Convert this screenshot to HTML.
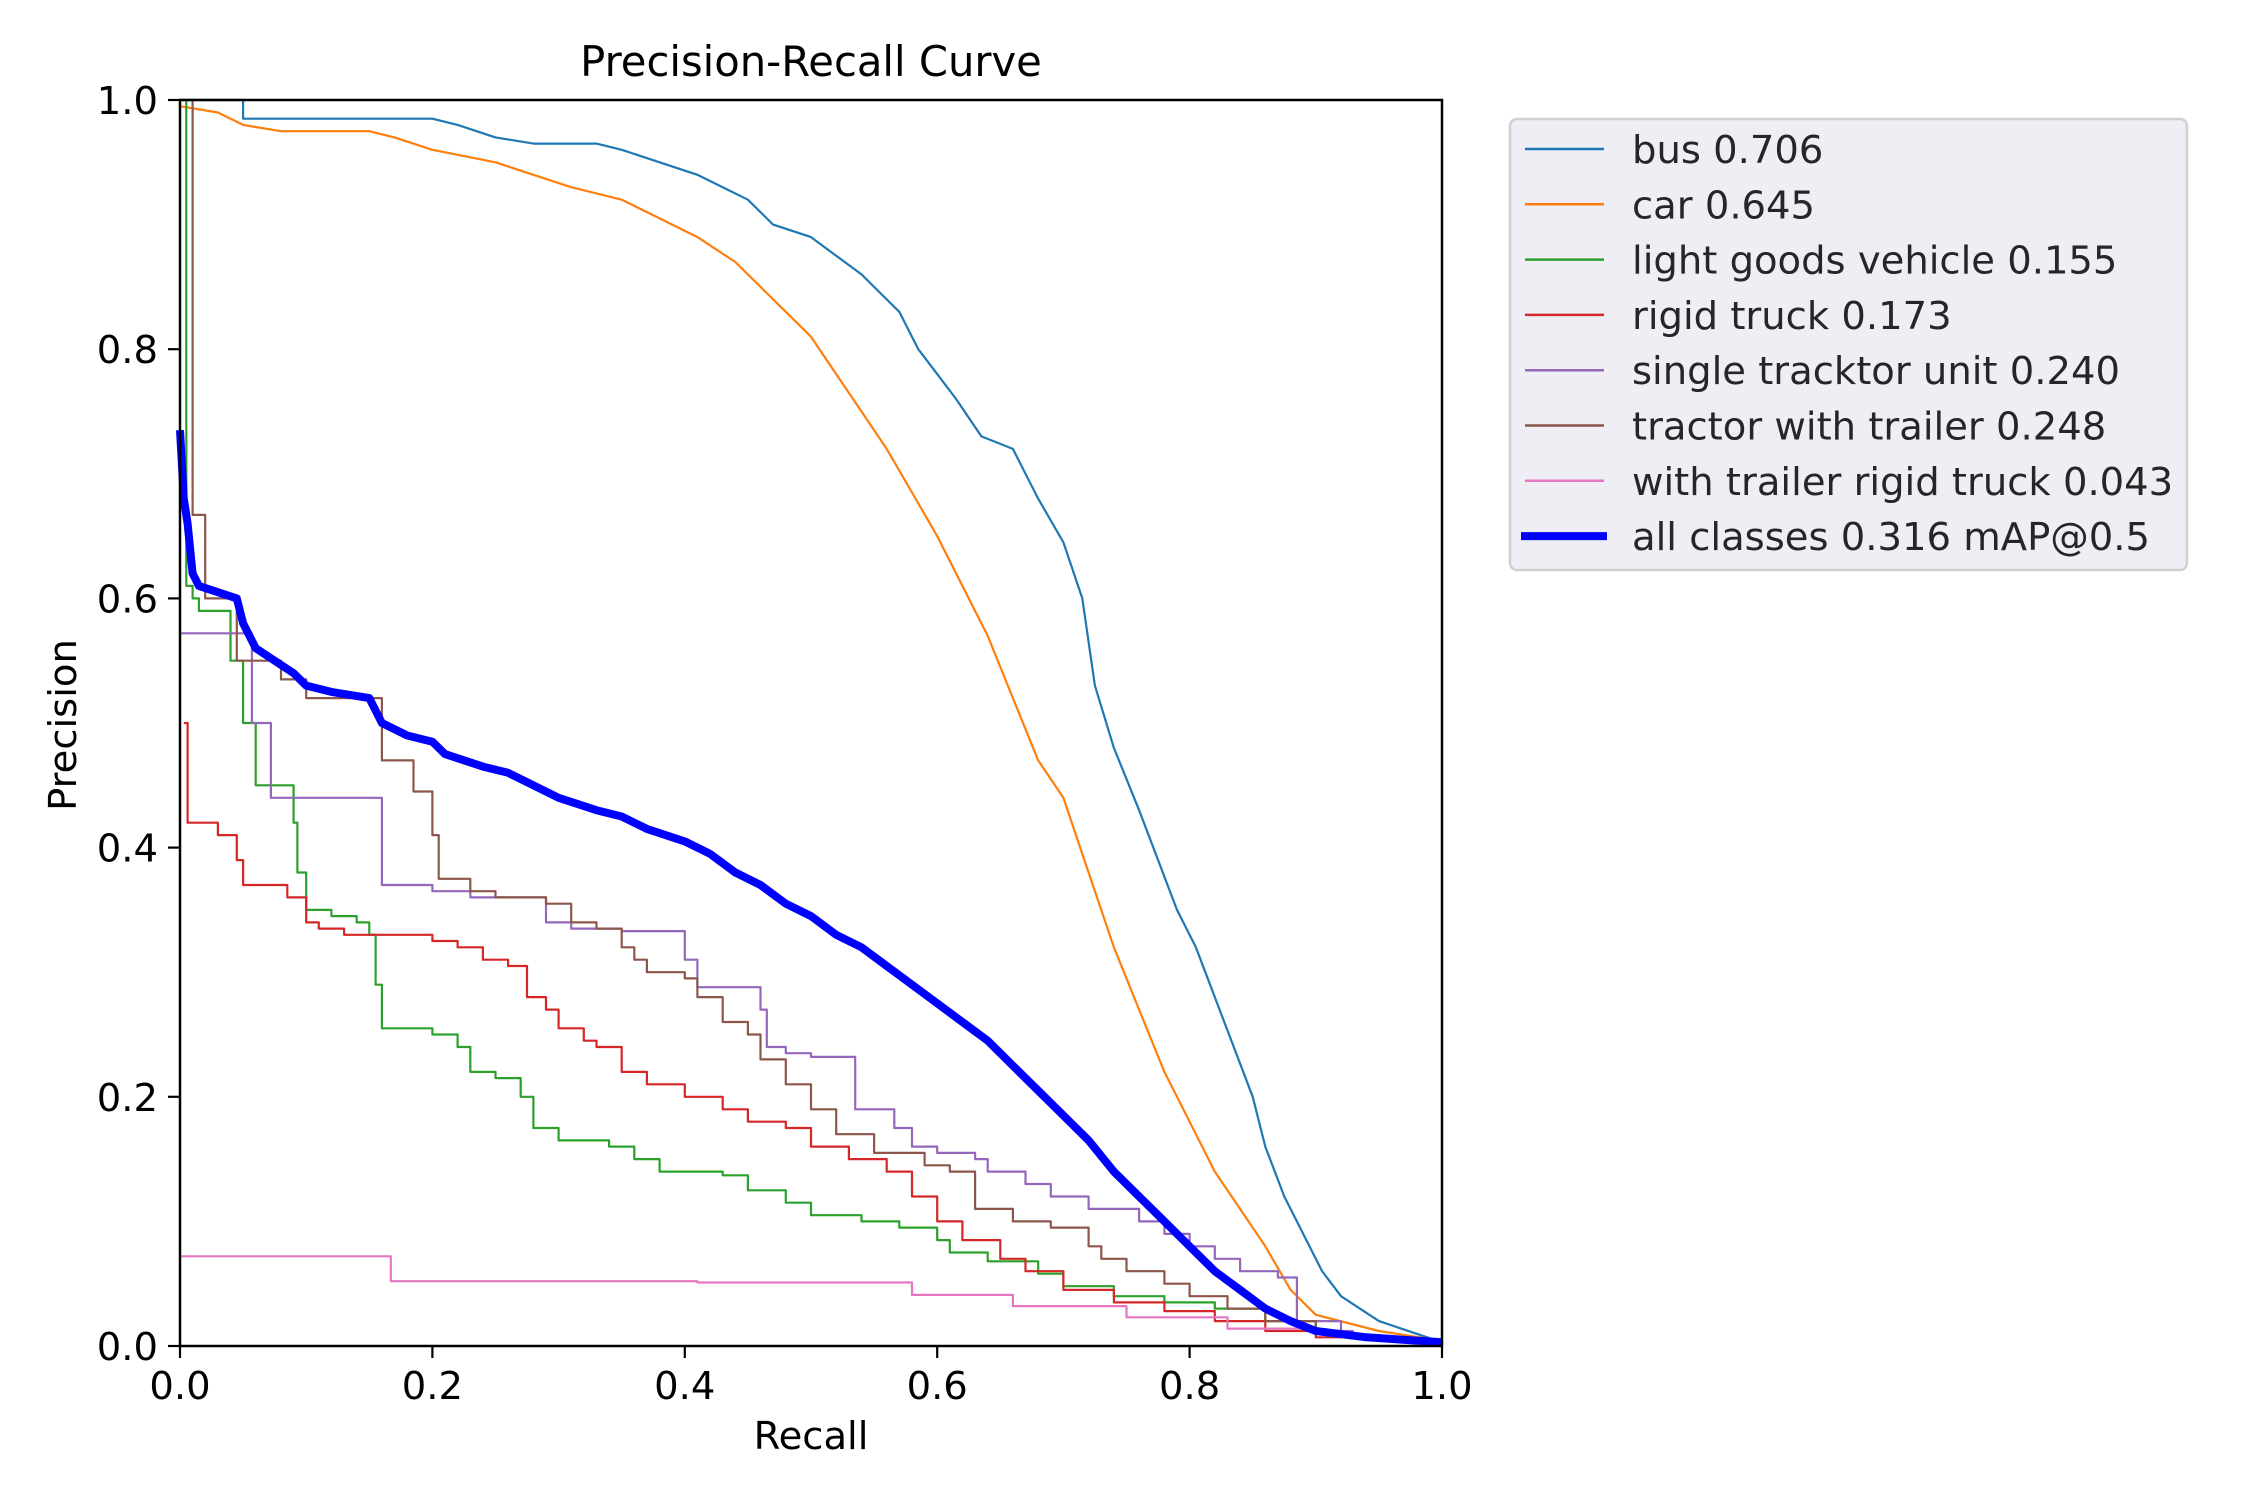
<!DOCTYPE html>
<html><head><meta charset="utf-8"><style>
html,body{margin:0;padding:0;background:#fff;}
svg{display:block;font-family:"DejaVu Sans","Liberation Sans",sans-serif;}
</style></head><body>
<svg id="chart" width="2250" height="1500" viewBox="0 0 2250 1500" xmlns="http://www.w3.org/2000/svg">
<rect width="2250" height="1500" fill="#fff"/>
<text x="811" y="76" font-size="41.7" text-anchor="middle" fill="#000">Precision-Recall Curve</text>
<g id="series"></g>
<rect x="180" y="100" width="1262" height="1246" fill="none" stroke="#000" stroke-width="2.5"/>
<g id="ticks"></g>
<text x="811" y="1449" font-size="38.5" text-anchor="middle" fill="#000">Recall</text>
<text x="0" y="0" font-size="38.5" text-anchor="middle" fill="#000" transform="translate(76,725) rotate(-90)">Precision</text>
<g id="legend">
<rect x="1510" y="119" width="677" height="451" rx="7" fill="#eeeef4" stroke="#d0d0d0" stroke-width="2.5"/>
</g>
</svg>
<script>
const categories = ["bus 0.706","car 0.645","light goods vehicle 0.155","rigid truck 0.173","single tracktor unit 0.240","tractor with trailer 0.248","with trailer rigid truck 0.043","all classes 0.316 mAP@0.5"];
const xTicks = [0,0.2,0.4,0.6,0.8,1.0];
const yTicks = [0,0.2,0.4,0.6,0.8,1.0];
const tickLabels = ["0.0","0.2","0.4","0.6","0.8","1.0"];
const busData = [[0,1.0],[0.05,1.0],[0.05,0.985],[0.2,0.985],[0.22,0.98],[0.25,0.97],[0.28,0.965],[0.33,0.965],[0.35,0.96],[0.38,0.95],[0.41,0.94],[0.43,0.93],[0.45,0.92],[0.47,0.90],[0.5,0.89],[0.52,0.875],[0.54,0.86],[0.55,0.85],[0.57,0.83],[0.585,0.80],[0.6,0.78],[0.615,0.76],[0.635,0.73],[0.66,0.72],[0.68,0.68],[0.70,0.645],[0.715,0.60],[0.725,0.53],[0.74,0.48],[0.76,0.43],[0.775,0.39],[0.79,0.35],[0.805,0.32],[0.82,0.28],[0.835,0.24],[0.85,0.20],[0.86,0.16],[0.875,0.12],[0.89,0.09],[0.905,0.06],[0.92,0.04],[0.95,0.02],[1.0,0.003]];
const carData = [[0,0.995],[0.03,0.99],[0.05,0.98],[0.08,0.975],[0.15,0.975],[0.17,0.97],[0.2,0.96],[0.25,0.95],[0.28,0.94],[0.31,0.93],[0.35,0.92],[0.38,0.905],[0.41,0.89],[0.44,0.87],[0.46,0.85],[0.48,0.83],[0.5,0.81],[0.52,0.78],[0.54,0.75],[0.56,0.72],[0.58,0.685],[0.60,0.65],[0.62,0.61],[0.64,0.57],[0.66,0.52],[0.68,0.47],[0.70,0.44],[0.72,0.38],[0.74,0.32],[0.76,0.27],[0.78,0.22],[0.80,0.18],[0.82,0.14],[0.84,0.11],[0.86,0.08],[0.88,0.045],[0.90,0.025],[0.95,0.012],[1.0,0.004]];
const lgvData = [[0,1.0],[0.005,0.61],[0.01,0.6],[0.015,0.59],[0.04,0.55],[0.05,0.50],[0.06,0.45],[0.09,0.42],[0.093,0.38],[0.1,0.35],[0.12,0.345],[0.14,0.34],[0.15,0.33],[0.155,0.29],[0.16,0.255],[0.2,0.25],[0.22,0.24],[0.23,0.22],[0.25,0.215],[0.27,0.20],[0.28,0.175],[0.3,0.165],[0.34,0.16],[0.36,0.15],[0.38,0.14],[0.43,0.137],[0.45,0.125],[0.48,0.115],[0.5,0.105],[0.54,0.10],[0.57,0.095],[0.6,0.085],[0.61,0.075],[0.64,0.068],[0.68,0.058],[0.7,0.048],[0.74,0.04],[0.78,0.035],[0.82,0.03],[0.86,0.02],[0.9,0.012],[0.92,0.012]];
const rigidData = [[0.003,0.5],[0.006,0.42],[0.03,0.41],[0.045,0.39],[0.05,0.37],[0.085,0.36],[0.1,0.34],[0.11,0.335],[0.13,0.33],[0.2,0.325],[0.22,0.32],[0.24,0.31],[0.26,0.305],[0.275,0.28],[0.29,0.27],[0.3,0.255],[0.32,0.245],[0.33,0.24],[0.35,0.22],[0.37,0.21],[0.4,0.2],[0.43,0.19],[0.45,0.18],[0.48,0.175],[0.5,0.16],[0.53,0.15],[0.56,0.14],[0.58,0.12],[0.6,0.1],[0.62,0.085],[0.65,0.07],[0.67,0.06],[0.7,0.045],[0.74,0.035],[0.78,0.028],[0.82,0.02],[0.86,0.012],[0.9,0.007],[0.92,0.007]];
const stuData = [[0,0.572],[0.057,0.5],[0.072,0.44],[0.16,0.37],[0.2,0.365],[0.23,0.36],[0.29,0.34],[0.31,0.335],[0.35,0.333],[0.4,0.31],[0.41,0.288],[0.46,0.27],[0.465,0.24],[0.48,0.235],[0.5,0.232],[0.535,0.19],[0.566,0.175],[0.58,0.16],[0.6,0.155],[0.63,0.15],[0.64,0.14],[0.67,0.13],[0.69,0.12],[0.72,0.11],[0.76,0.1],[0.78,0.09],[0.8,0.08],[0.82,0.07],[0.84,0.06],[0.87,0.055],[0.885,0.02],[0.92,0.012],[0.93,0.012]];
const twtData = [[0.005,1.0],[0.01,0.667],[0.02,0.6],[0.045,0.55],[0.08,0.535],[0.1,0.52],[0.16,0.47],[0.185,0.445],[0.2,0.41],[0.205,0.375],[0.23,0.365],[0.25,0.36],[0.29,0.355],[0.31,0.34],[0.33,0.335],[0.35,0.32],[0.36,0.31],[0.37,0.30],[0.4,0.295],[0.41,0.28],[0.43,0.26],[0.45,0.25],[0.46,0.23],[0.48,0.21],[0.5,0.19],[0.52,0.17],[0.55,0.155],[0.59,0.145],[0.61,0.14],[0.63,0.11],[0.66,0.10],[0.69,0.095],[0.72,0.08],[0.73,0.07],[0.75,0.06],[0.78,0.05],[0.8,0.04],[0.83,0.03],[0.86,0.02],[0.9,0.012],[0.92,0.012]];
const wtrData = [[0,0.072],[0.167,0.052],[0.41,0.051],[0.58,0.041],[0.66,0.032],[0.75,0.023],[0.83,0.014],[0.9,0.01],[0.92,0.01]];
const allData = [[0,0.735],[0.003,0.68],[0.006,0.66],[0.01,0.62],[0.015,0.61],[0.03,0.605],[0.045,0.6],[0.05,0.58],[0.06,0.56],[0.075,0.55],[0.09,0.54],[0.1,0.53],[0.12,0.525],[0.15,0.52],[0.16,0.50],[0.18,0.49],[0.2,0.485],[0.21,0.475],[0.24,0.465],[0.26,0.46],[0.28,0.45],[0.3,0.44],[0.33,0.43],[0.35,0.425],[0.37,0.415],[0.4,0.405],[0.42,0.395],[0.44,0.38],[0.46,0.37],[0.48,0.355],[0.5,0.345],[0.52,0.33],[0.54,0.32],[0.56,0.305],[0.58,0.29],[0.6,0.275],[0.62,0.26],[0.64,0.245],[0.66,0.225],[0.68,0.205],[0.70,0.185],[0.72,0.165],[0.74,0.14],[0.76,0.12],[0.78,0.10],[0.80,0.08],[0.82,0.06],[0.84,0.045],[0.86,0.03],[0.88,0.02],[0.9,0.012],[0.94,0.007],[1.0,0.003]];

const NS="http://www.w3.org/2000/svg";
const L=180,R=1442,T=100,B=1346;
function xs(v){return L+v*(R-L);}
function ys(v){return B-v*(B-T);}
const colors=["#1f77b4","#ff7f0e","#2ca02c","#d62728","#9467bd","#8c564b","#e377c2","#0000ff"];
const datasets=[busData,carData,lgvData,rigidData,stuData,twtData,wtrData,allData];
const stepped=[false,false,true,true,true,true,true,false];
const names=["bus-curve","car-curve","light-goods-vehicle-curve","rigid-truck-curve","single-tracktor-unit-curve","tractor-with-trailer-curve","with-trailer-rigid-truck-curve","all-classes-curve"];
const sg=document.getElementById('series');
datasets.forEach((d,i)=>{
  let pts=[];
  d.forEach((p,j)=>{
    if(stepped[i]&&j>0){pts.push(xs(p[0]).toFixed(1)+","+ys(d[j-1][1]).toFixed(1));}
    pts.push(xs(p[0]).toFixed(1)+","+ys(p[1]).toFixed(1));
  });
  const pl=document.createElementNS(NS,'polyline');
  
  
  pl.setAttribute('points',pts.join(' '));
  pl.setAttribute('fill','none');
  pl.setAttribute('stroke',colors[i]);
  pl.setAttribute('stroke-width',i===7?'8':'2.2');
  pl.setAttribute('stroke-linejoin','round');
  sg.appendChild(pl);
});
const tg=document.getElementById('ticks');
xTicks.forEach((v,i)=>{
  const ln=document.createElementNS(NS,'line');
  
  
  ln.setAttribute('x1',xs(v));ln.setAttribute('x2',xs(v));ln.setAttribute('y1',B);ln.setAttribute('y2',B+12);
  ln.setAttribute('stroke','#000');ln.setAttribute('stroke-width','2.2');
  tg.appendChild(ln);
  const t=document.createElementNS(NS,'text');
  
  
  t.setAttribute('x',xs(v));t.setAttribute('y',B+53);t.setAttribute('font-size','38.5');t.setAttribute('text-anchor','middle');
  t.textContent=tickLabels[i];tg.appendChild(t);
});
yTicks.forEach((v,i)=>{
  const ln=document.createElementNS(NS,'line');
  
  
  ln.setAttribute('x1',L-12);ln.setAttribute('x2',L);ln.setAttribute('y1',ys(v));ln.setAttribute('y2',ys(v));
  ln.setAttribute('stroke','#000');ln.setAttribute('stroke-width','2.2');
  tg.appendChild(ln);
  const t=document.createElementNS(NS,'text');
  
  
  t.setAttribute('x',L-22);t.setAttribute('y',ys(v)+14);t.setAttribute('font-size','38.5');t.setAttribute('text-anchor','end');
  t.textContent=tickLabels[i];tg.appendChild(t);
});
const lg=document.getElementById('legend');
categories.forEach((c,i)=>{
  const y=149+i*55.3;
  const ln=document.createElementNS(NS,'line');
  
  
  ln.setAttribute('x1',i===7?1521:1525);ln.setAttribute('x2',i===7?1607:1604);ln.setAttribute('y1',y);ln.setAttribute('y2',y);
  ln.setAttribute('stroke',colors[i]);ln.setAttribute('stroke-width',i===7?'8':'2.5');
  lg.appendChild(ln);
  const t=document.createElementNS(NS,'text');
  
  
  t.setAttribute('x',1632);t.setAttribute('y',y+14);t.setAttribute('font-size','38.5');t.setAttribute('fill','#262626');
  t.textContent=c;lg.appendChild(t);
});
</script>
</body></html>
